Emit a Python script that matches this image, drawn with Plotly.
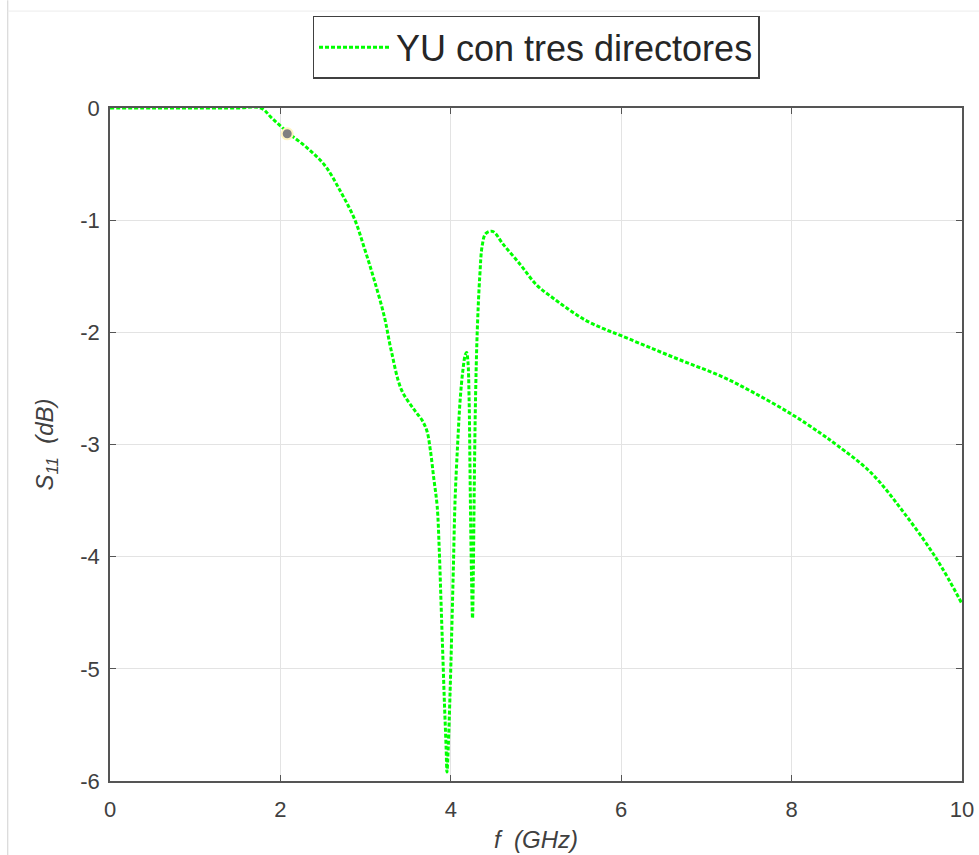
import plotly.graph_objects as go

# Data
freq_ghz = [0, 0.5, 1.0, 1.5, 1.77, 1.9, 2.09, 2.32, 2.52, 2.71, 2.87, 2.99, 3.10,
            3.22, 3.30, 3.42, 3.57, 3.66, 3.72, 3.76, 3.80, 3.84, 3.865, 3.885,
            3.905, 3.925, 3.945, 3.955, 3.97, 3.99, 4.01, 4.03, 4.05, 4.08, 4.11,
            4.14, 4.17, 4.185, 4.20, 4.215, 4.225, 4.235, 4.245, 4.255, 4.265,
            4.275, 4.29, 4.31, 4.34, 4.37, 4.41, 4.49, 4.62, 4.82, 5.01, 5.21,
            5.41, 5.60, 5.80, 6.0, 6.38, 6.77, 7.17, 7.56, 8.0, 8.34, 8.54, 8.93,
            9.32, 9.71, 10.0]
s11_db = [0, 0, 0, 0, 0, -0.09, -0.22, -0.36, -0.51, -0.75, -0.99, -1.26, -1.53,
          -1.86, -2.16, -2.51, -2.69, -2.78, -2.88, -3.05, -3.3, -3.55, -3.95, -4.4,
          -4.85, -5.3, -5.7, -5.92, -5.7, -5.25, -4.7, -4.1, -3.5, -3.0, -2.6,
          -2.35, -2.2, -2.18, -2.25, -2.6, -3.2, -3.8, -4.25, -4.55, -4.1, -3.4,
          -2.6, -2.0, -1.5, -1.22, -1.12, -1.10, -1.22, -1.40, -1.58, -1.70,
          -1.81, -1.90, -1.97, -2.03, -2.15, -2.27, -2.39, -2.54, -2.73, -2.90,
          -3.01, -3.25, -3.61, -4.03, -4.42]

series_name = "YU con tres directores"
datatip_f = [2.08]
datatip_s = [-0.23]

x_ticks = [0, 2, 4, 6, 8, 10]
y_ticks = [0, -1, -2, -3, -4, -5, -6]

FONT = "Liberation Sans, Arial, sans-serif"
AX = "#404040"

fig = go.Figure()
fig.add_trace(go.Scatter(
    x=freq_ghz, y=s11_db, mode="lines", name=series_name,
    line=dict(color="#00ff00", width=3, dash="4px,2px", shape="spline", smoothing=1.0),
))
fig.add_trace(go.Scatter(
    x=datatip_f, y=datatip_s, mode="markers", showlegend=False,
    marker=dict(color="#808080", size=11, line=dict(color="#fff4c0", width=2)),
))

axis_common = dict(
    showgrid=True, gridcolor="#e3e3e3", gridwidth=1,
    showline=True, linecolor="#555555", linewidth=1.5, mirror="ticks",
    ticks="inside", ticklen=6, tickcolor="#555555", tickwidth=1,
    zeroline=False,
    tickfont=dict(family=FONT, size=22, color=AX),
)

fig.update_xaxes(range=[0, 10], tickvals=x_ticks, ticktext=[str(v) for v in x_ticks],
                 ticklabelstandoff=8,
                 title=dict(text="<i>f</i>  <i>(GHz)</i>", font=dict(family=FONT, size=24, color=AX),
                            standoff=10),
                 **axis_common)
fig.update_yaxes(range=[-6, 0], tickvals=y_ticks, ticktext=[str(v) for v in y_ticks],
                 ticklabelstandoff=4,
                 title=dict(text="<i>S</i><sub><i>11</i></sub>  <i>(dB)</i>",
                            font=dict(family=FONT, size=24, color=AX), standoff=20),
                 **axis_common)

fig.update_layout(
    width=979, height=855,
    margin=dict(l=110, r=17, t=108, b=74, autoexpand=False),
    plot_bgcolor="white", paper_bgcolor="white",
    font=dict(family=FONT, color=AX),
    showlegend=True,
    legend=dict(
        x=0.5, xanchor="center", y=1.137, yanchor="top",
        bgcolor="white", bordercolor="#404040", borderwidth=1.5,
        font=dict(family=FONT, size=36, color="#262626"),
        itemwidth=72, tracegroupgap=0,
    ),
    shapes=[
        dict(type="line", xref="paper", yref="paper", x0=-0.12, x1=-0.12, y0=-0.11, y1=1.16,
             line=dict(color="#d0d0d0", width=1)),
        dict(type="line", xref="paper", yref="paper", x0=-0.12, x1=1.02, y0=1.144, y1=1.144,
             line=dict(color="#ececec", width=1)),
    ],
)

fig.write_html("out.html")
